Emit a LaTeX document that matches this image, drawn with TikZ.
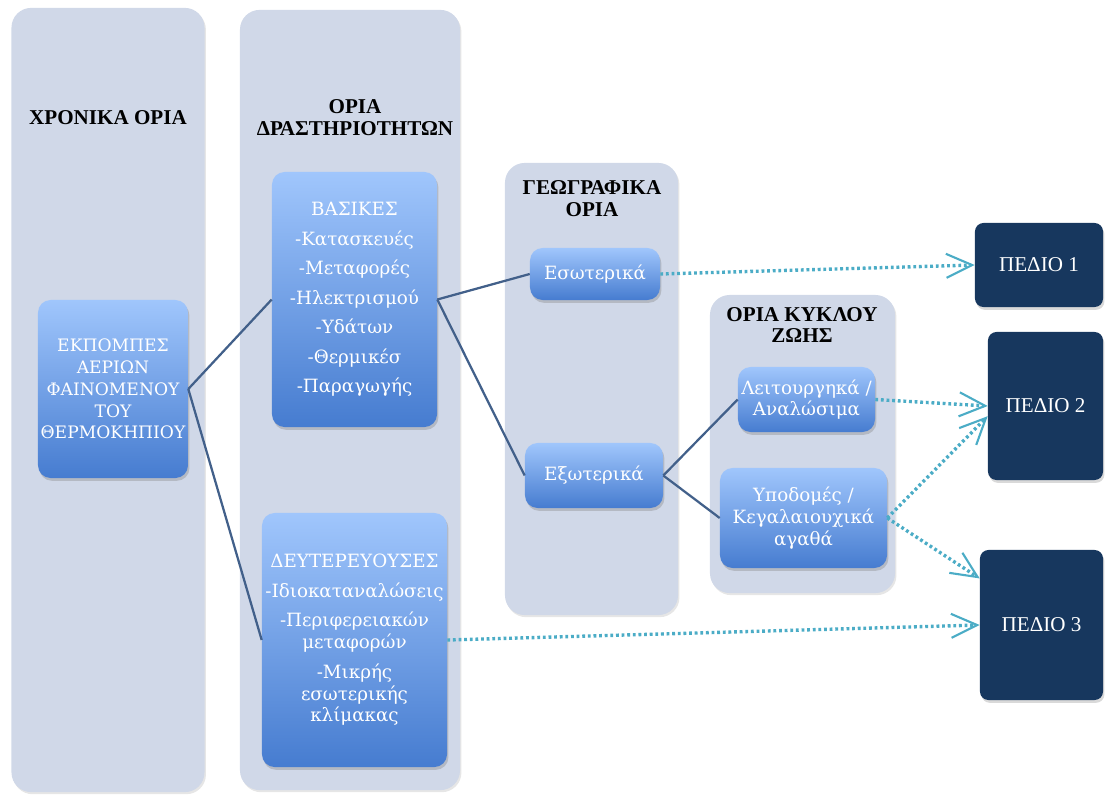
\documentclass[tikz,border=0pt]{standalone}
\usepackage{fontspec}
\setmainfont{Liberation Serif}
\newfontfamily\boxfont{DejaVu Serif}
\usepackage{tikz}
\usetikzlibrary{positioning,shadows,arrows.meta}
\definecolor{colbg}{RGB}{208,216,232}
\definecolor{boxtop}{RGB}{160,198,252}
\definecolor{boxbot}{RGB}{70,124,208}
\definecolor{fieldnavy}{RGB}{23,55,94}
\definecolor{linkblue}{RGB}{66,96,138}
\definecolor{dotteal}{RGB}{75,172,198}
\tikzset{
  column/.style   = {draw=none, fill=colbg, rounded corners=14pt,
                     drop shadow={opacity=0.2, shadow xshift=1pt, shadow yshift=-1.5pt}},
  heading/.style  = {font=\bfseries\fontsize{15}{15.5}\selectfont, align=center},
  blue box/.style = {rounded corners=9pt, top color=boxtop, bottom color=boxbot,
                     text=white, align=center, inner sep=1pt,
                     font=\boxfont\fontsize{13}{15.5}\selectfont,
                     drop shadow={opacity=0.35, shadow xshift=1pt, shadow yshift=-2pt}},
  field/.style    = {rounded corners=6pt, fill=fieldnavy, text=white,
                     font=\fontsize{15}{17}\selectfont,
                     drop shadow={opacity=0.3, shadow xshift=1pt, shadow yshift=-2pt}},
  link/.style     = {draw=linkblue, line width=1.6pt},
  dots/.style     = {draw=dotteal, line width=2.4pt, dash pattern=on 2pt off 2pt,
                     -{Straight Barb[length=6.5mm,width=6mm,line width=1.5pt]}}
}
\begin{document}
\begin{tikzpicture}[x=0.025cm, y=-0.025cm]
\useasboundingbox (0,0) rectangle (1105,796);
% columns
\node[column, minimum width=4.825cm, minimum height=19.6cm]   (timecol) at (108,400) {};
\node[column, minimum width=5.5cm, minimum height=19.5cm]     (actcol)  at (350,400) {};
\node[column, minimum width=4.325cm, minimum height=11.3cm]   (geocol)  at (591.5,389) {};
\node[column, minimum width=4.625cm, minimum height=7.45cm]   (lifecol) at (802.5,444) {};
\node[heading] (timehead) at (108,118) {ΧΡΟΝΙΚΑ ΟΡΙΑ};
\node[heading] (acthead)  at (355,118) {ΟΡΙΑ\\ΔΡΑΣΤΗΡΙΟΤΗΤΩΝ};
\node[heading] (geohead)  at (592,199) {ΓΕΩΓΡΑΦΙΚΑ\\ΟΡΙΑ};
\node[heading] (lifehead) at (802,325) {ΟΡΙΑ ΚΥΚΛΟΥ\\ΖΩΗΣ};
% boxes
\node[blue box, font=\boxfont\fontsize{12.2}{15.5}\selectfont,
      minimum width=3.75cm, minimum height=4.45cm] (emis) at (113,389)
  {ΕΚΠΟΜΠΕΣ\\ΑΕΡΙΩΝ\\ΦΑΙΝΟΜΕΝΟΥ\\ΤΟΥ\\ΘΕΡΜΟΚΗΠΙΟΥ};
\node[blue box, minimum width=4.125cm, minimum height=6.375cm] (basic) at (354.5,299.5)
  {ΒΑΣΙΚΕΣ\\[5.5pt]-Κατασκευές\\[5.5pt]-Μεταφορές\\[5.5pt]-Ηλεκτρισμού\\[5.5pt]-Υδάτων\\[5.5pt]-Θερμικέσ\\[5.5pt]-Παραγωγής};
\node[blue box, minimum width=4.625cm, minimum height=6.35cm] (second) at (354.5,640)
  {ΔΕΥΤΕΡΕΥΟΥΣΕΣ\\[5.5pt]-Ιδιοκαταναλώσεις\\[5.5pt]-Περιφερειακών\\μεταφορών\\[5.5pt]-Μικρής\\εσωτερικής\\κλίμακας};
\node[blue box, minimum width=3.25cm, minimum height=1.3cm]   (inner) at (595,274) {Εσωτερικά};
\node[blue box, minimum width=3.45cm, minimum height=1.625cm] (outer) at (594,475.5) {Εξωτερικά};
\node[blue box, minimum width=3.425cm, minimum height=1.625cm] (oper) at (806.5,399.5)
  {Λειτουργηκά /\\Αναλώσιμα};
\node[blue box, minimum width=4.175cm, minimum height=2.5cm]  (infra) at (803.5,518)
  {Υποδομές /\\Κεγαλαιουχικά\\αγαθά};
\node[field, minimum width=3.2cm, minimum height=2.1cm]   (p1) at (1039,265)   {ΠΕΔΙΟ 1};
\node[field, minimum width=2.875cm, minimum height=3.7cm] (p2) at (1045.5,406) {ΠΕΔΙΟ 2};
\node[field, minimum width=3.075cm, minimum height=3.75cm] (p3) at (1041.5,625) {ΠΕΔΙΟ 3};
% connectors
\draw[link] (emis.east) -- (basic.west);
\draw[link] (emis.east) -- (second.west);
\draw[link] (basic.east) -- (inner.west);
\draw[link] (basic.east) -- (outer.west);
\draw[link] (outer.east) -- (oper.west);
\draw[link] (outer.east) -- (infra.west);
\draw[dots] (inner.east) -- (p1.west);
\draw[dots] (oper.east) -- (p2.west);
\draw[dots] (infra.east) -- (p2.190);
\draw[dots] (infra.east) -- (p3.143);
\draw[dots] (second.east) -- (p3.west);
\end{tikzpicture}
\end{document}
